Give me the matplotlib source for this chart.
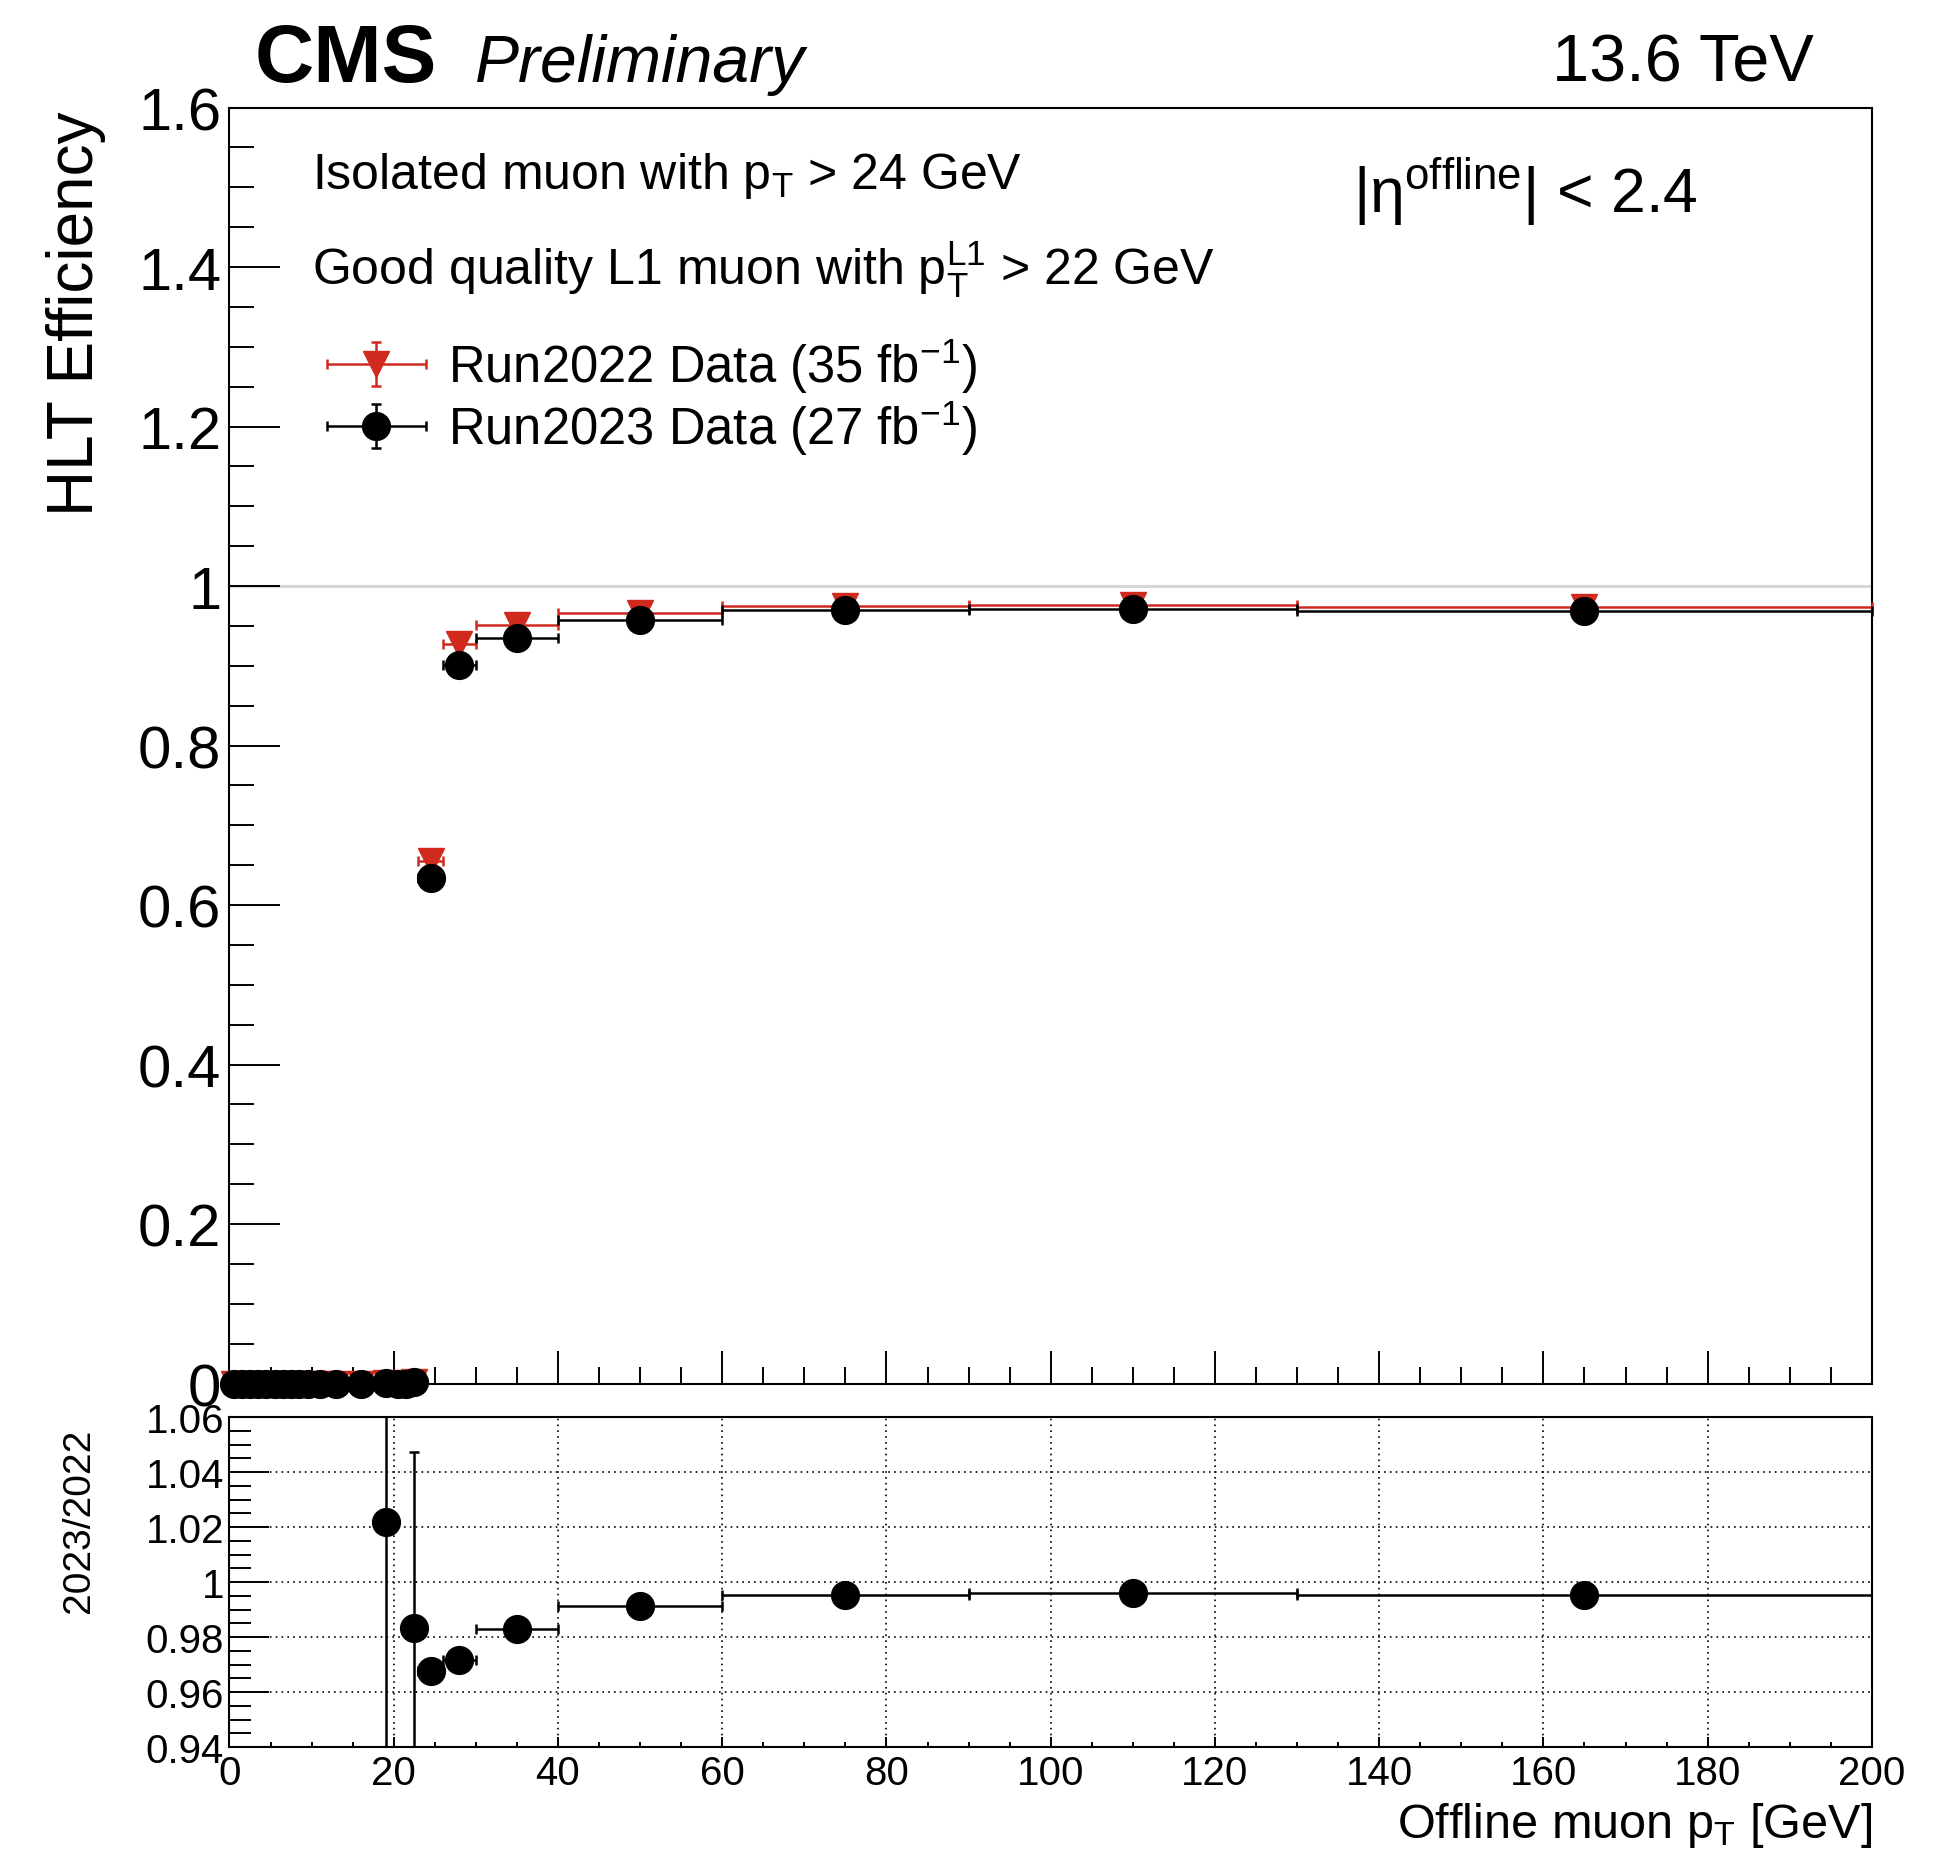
import numpy as np
import matplotlib
matplotlib.use("Agg")
import matplotlib.pyplot as plt
from matplotlib.ticker import MultipleLocator
from matplotlib.legend_handler import HandlerErrorbar

plt.rcParams['font.family'] = ['Liberation Sans', 'DejaVu Sans']
plt.rcParams['mathtext.fontset'] = 'custom'
plt.rcParams['mathtext.rm'] = 'Liberation Sans'
plt.rcParams['mathtext.it'] = 'Liberation Sans:italic'
plt.rcParams['mathtext.bf'] = 'Liberation Sans:bold'

# pT binning (GeV)
bin_edges = [0, 1, 2, 3, 4, 5, 6, 7, 8, 9, 10, 12, 14, 18, 20, 21, 22, 23,
             26, 30, 40, 60, 90, 130, 200]

# HLT efficiency per bin
eff_2022 = [0, 0, 0, 0, 0, 0, 0, 0, 0, 0, 0, 0, 0, 0.00098, 0, 0, 0.00203,
            0.6556, 0.9267, 0.9510, 0.9666, 0.9747, 0.9756, 0.9737]
err_2022 = [0, 0, 0, 0, 0, 0, 0, 0, 0, 0, 0, 0, 0, 0.001, 0, 0, 0.002,
            0.004, 0.003, 0.002, 0.0015, 0.001, 0.001, 0.001]
eff_2023 = [0, 0, 0, 0, 0, 0, 0, 0, 0, 0, 0, 0, 0, 0.0010, 0, 0, 0.0020,
            0.6345, 0.9006, 0.9347, 0.9580, 0.9700, 0.9718, 0.9690]
err_2023 = [0, 0, 0, 0, 0, 0, 0, 0, 0, 0, 0, 0, 0, 0.001, 0, 0, 0.002,
            0.004, 0.003, 0.002, 0.0015, 0.001, 0.001, 0.001]

# ratio 2023/2022 (only where defined)
ratio_lo = [18, 22, 23, 26, 30, 40, 60, 90, 130]
ratio_hi = [20, 23, 26, 30, 40, 60, 90, 130, 200]
ratio = [1.022, 0.9834, 0.9678, 0.9718, 0.9828, 0.9911, 0.9952, 0.9961, 0.9952]
ratio_err_dn = [0.2, 0.2, 0.003, 0.002, 0.0015, 0.001, 0.001, 0.001, 0.001]
ratio_err_up = [0.2, 0.064, 0.003, 0.002, 0.0015, 0.001, 0.001, 0.001, 0.001]

edges = np.array(bin_edges, dtype=float)
centers = 0.5 * (edges[:-1] + edges[1:])
half = 0.5 * (edges[1:] - edges[:-1])
r_lo = np.array(ratio_lo, dtype=float)
r_hi = np.array(ratio_hi, dtype=float)
r_c = 0.5 * (r_lo + r_hi)
r_half = 0.5 * (r_hi - r_lo)

red = '#d02a1e'

fig = plt.figure(figsize=(19.35, 18.58), dpi=100)
ax = fig.add_axes([0.1186, 0.2548, 0.8488, 0.6868])
ax2 = fig.add_axes([0.1186, 0.0592, 0.8488, 0.1776])

# top panel
ax.axhline(1.0, color='#d6d6d6', lw=2.2, zorder=1)
ax.errorbar(centers, eff_2022, xerr=half, yerr=err_2022, fmt='v', color=red,
            ms=19, lw=1.8, capsize=3.5, capthick=1.8, clip_on=False, zorder=3,
            label='Run2022 Data (35 fb$^{-1}$)')
ax.errorbar(centers, eff_2023, xerr=half, yerr=err_2023, fmt='o', color='black',
            ms=20, lw=1.8, capsize=3.5, capthick=1.8, clip_on=False, zorder=4,
            label='Run2023 Data (27 fb$^{-1}$)')

ax.set_xlim(0, 200)
ax.set_ylim(0, 1.6)
ax.yaxis.set_minor_locator(MultipleLocator(0.05))
ax.xaxis.set_major_locator(MultipleLocator(20))
ax.xaxis.set_minor_locator(MultipleLocator(5))
ax.set_yticks(np.arange(0, 1.61, 0.2))
ax.set_yticklabels(['0', '0.2', '0.4', '0.6', '0.8', '1', '1.2', '1.4', '1.6'])
ax.tick_params(axis='y', which='major', direction='in', length=37, width=1.4,
               labelsize=43, pad=6)
ax.tick_params(axis='y', which='minor', direction='in', length=18, width=1.4)
ax.tick_params(axis='x', which='major', direction='in', length=24, width=1.4,
               labelbottom=False)
ax.tick_params(axis='x', which='minor', direction='in', length=12, width=1.4)
for s in ax.spines.values():
    s.set_linewidth(1.5)

ax.text(0.0503, 0.947, 'Isolated muon with p$_{\\mathrm{T}}$ > 24 GeV',
        transform=ax.transAxes, fontsize=36, va='center', ha='left')
ax.text(0.0503, 0.874,
        'Good quality L1 muon with p$_{\\mathrm{T}}^{\\mathrm{L1}}$ > 22 GeV',
        transform=ax.transAxes, fontsize=36, va='center', ha='left')
ax.text(0.684, 0.935, '|η$^{\\mathrm{offline}}$| < 2.4',
        transform=ax.transAxes, fontsize=45, va='center', ha='left')

leg = ax.legend(loc='center left', bbox_to_anchor=(0.0594, 0.774), frameon=False,
                fontsize=36.5, handlelength=1.95, handletextpad=0.44,
                labelspacing=0.05, borderpad=0, borderaxespad=0,
                handler_map={type(ax.containers[0]):
                             HandlerErrorbar(xerr_size=0.97, yerr_size=0.43)})

# ratio panel
ax2.errorbar(r_c, ratio, xerr=r_half, yerr=[ratio_err_dn, ratio_err_up],
             fmt='o', color='black', ms=20, lw=1.8, capsize=3.5, capthick=1.8,
             zorder=4)
ax2.set_xlim(0, 200)
ax2.set_ylim(0.94, 1.06)
ax2.xaxis.set_major_locator(MultipleLocator(20))
ax2.xaxis.set_minor_locator(MultipleLocator(5))
ax2.set_yticks(np.arange(0.94, 1.0601, 0.02))
ax2.set_yticklabels(['0.94', '0.96', '0.98', '1', '1.02', '1.04', '1.06'])
ax2.yaxis.set_minor_locator(MultipleLocator(0.005))
ax2.grid(True, which='major', color='black', linestyle=(0, (1, 2.5)), lw=1.2)
ax2.tick_params(axis='y', which='major', direction='in', length=29, width=1.4,
                labelsize=29, pad=4)
ax2.tick_params(axis='y', which='minor', direction='in', length=16, width=1.4)
ax2.tick_params(axis='x', which='major', direction='in', length=7, width=1.4,
                labelsize=29, pad=5)
ax2.tick_params(axis='x', which='minor', direction='in', length=3.5, width=1.4)
for s in ax2.spines.values():
    s.set_linewidth(1.5)

# labels and header
fig.text(0.0395, 0.940, 'HLT Efficiency', rotation=90, fontsize=46,
         ha='center', va='top')
fig.text(0.041, 0.231, '2023/2022', rotation=90, fontsize=28,
         ha='center', va='top')
fig.text(0.9674, 0.0106, 'Offline muon p$_{\\mathrm{T}}$ [GeV]', fontsize=35,
         ha='right', va='baseline')
fig.text(0.1314, 0.956, 'CMS', fontsize=59, fontweight='bold',
         ha='left', va='baseline')
fig.text(0.2455, 0.956, 'Preliminary', fontsize=47.5, fontstyle='italic',
         ha='left', va='baseline')
fig.text(0.9375, 0.956, '13.6 TeV', fontsize=48, ha='right', va='baseline')

fig.savefig('out.png', dpi=100)
